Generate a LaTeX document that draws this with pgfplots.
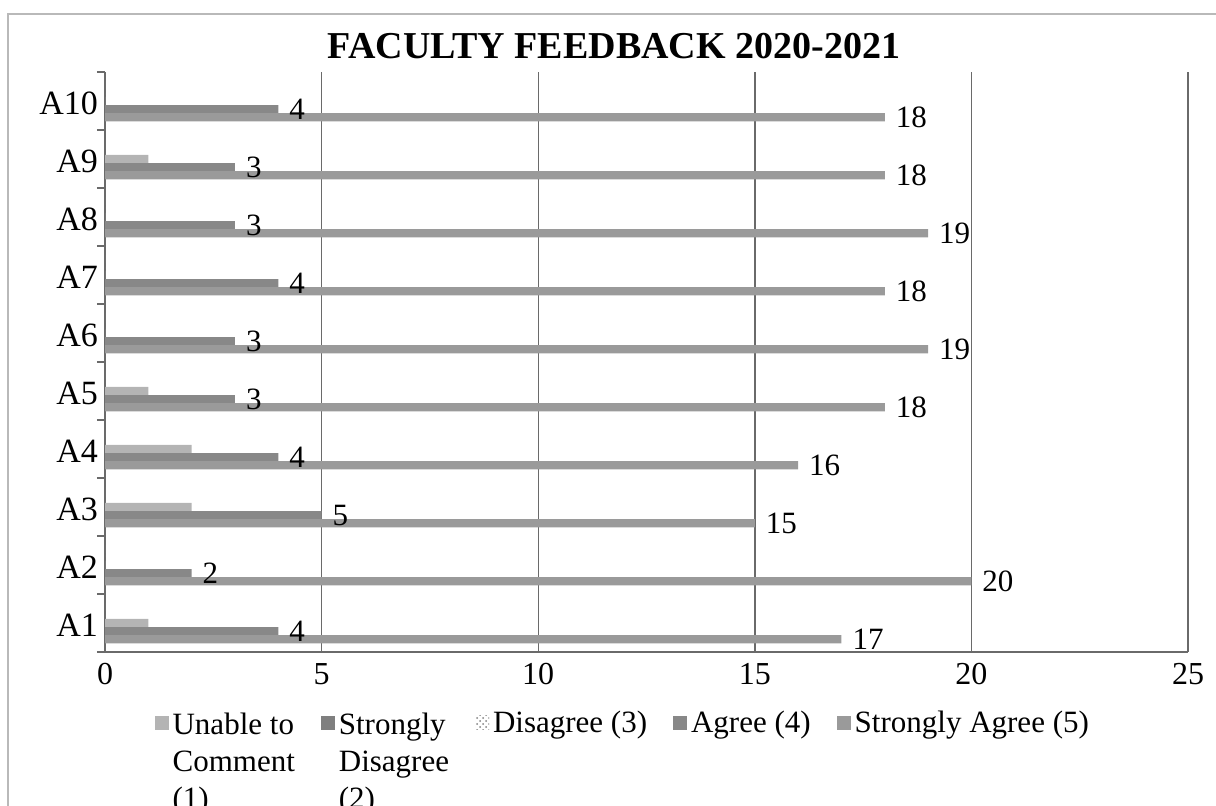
\documentclass[border=0pt]{standalone}
\usepackage{fontspec}
\setmainfont{Liberation Serif}
\usepackage{pgfplots}
\pgfplotsset{compat=1.18}
\usetikzlibrary{patterns}

\definecolor{cUnable}{HTML}{B4B4B4}
\definecolor{cSDis}{HTML}{7F7F7F}
\definecolor{cAgree}{HTML}{888888}
\definecolor{cSAgree}{HTML}{9A9A9A}
\definecolor{cGrid}{HTML}{6A6A6A}

% multi-line legend text hanging below the first line
\newcommand{\lstack}[1]{\raisebox{0pt}[\height][0pt]{\begin{tabular}[t]{@{}l@{}}#1\end{tabular}}}

\begin{document}
\begin{tikzpicture}
\useasboundingbox (-52.5pt,-76.5pt) rectangle (555.5pt,326pt);
\begin{axis}[
    xbar,
    scale only axis,
    width=541.5pt, height=290pt,
    xmin=0, xmax=25, ymin=0.5, ymax=10.5,
    xtick={0,5,...,25},
    ytick={1,...,10},
    yticklabels={A1,A2,A3,A4,A5,A6,A7,A8,A9,A10},
    minor ytick={0.5,1.5,...,10.5},
    major tick length=0pt,
    minor tick length=4pt,
    tick align=outside,
    tick style={cGrid, line width=0.6pt},
    axis x line*=bottom, axis y line*=left,
    axis line style={cGrid, line width=0.8pt, -},
    xmajorgrids,
    major grid style={cGrid, line width=0.7pt},
    bar width=0.14,
    /pgf/number format/assume math mode=true,
    xticklabel style={font=\fontsize{16}{19}\selectfont, yshift=-2pt},
    yticklabel style={font=\fontsize{17}{20}\selectfont, yshift=-1pt},
    title={FACULTY FEEDBACK 2020-2021},
    title style={font=\bfseries\fontsize{19}{22}\selectfont, at={(0.47,1)}, anchor=base, yshift=1pt},
    every node near coord/.append style={font=\fontsize{15.5}{18.6}\selectfont, anchor=west, xshift=2pt, text=black},
    legend columns=5,
    legend cell align=left,
    legend image code/.code={\fill[#1] (0pt,-3.5pt) rectangle (7pt,3.5pt);},
    legend style={at={(0.479,0)}, anchor=north, yshift=-24pt, draw=none, fill=none,
        font=\fontsize{15.5}{18.6}\selectfont,
        /tikz/every even column/.append style={column sep=11pt}},
]
\addplot[fill=cUnable, draw=none, bar shift=0]
    coordinates {(1,1) (0,2) (2,3) (2,4) (1,5) (0,6) (0,7) (0,8) (1,9) (0,10)};
\addlegendentry{\lstack{Unable to\\Comment\\(1)}}
\addplot[fill=cSDis, draw=none, bar shift=0.28]
    coordinates {(0,1) (0,2) (0,3) (0,4) (0,5) (0,6) (0,7) (0,8) (0,9) (0,10)};
\addlegendentry{\lstack{Strongly\\Disagree\\(2)}}
\addplot[pattern=crosshatch dots, pattern color=gray, draw=none, bar shift=0.14]
    coordinates {(0,1) (0,2) (0,3) (0,4) (0,5) (0,6) (0,7) (0,8) (0,9) (0,10)};
\addlegendentry{Disagree (3)}
\addplot[fill=cAgree, draw=none, bar shift=-0.14, nodes near coords, point meta=x]
    coordinates {(4,1) (2,2) (5,3) (4,4) (3,5) (3,6) (4,7) (3,8) (3,9) (4,10)};
\addlegendentry{Agree (4)}
\addplot[fill=cSAgree, draw=none, bar shift=-0.28, nodes near coords, point meta=x]
    coordinates {(17,1) (20,2) (15,3) (16,4) (18,5) (19,6) (18,7) (19,8) (18,9) (18,10)};
\addlegendentry{Strongly Agree (5)}
\end{axis}
\draw[gray!55, line width=1pt] (-48.5pt,-90pt) -- (-48.5pt,319pt) -- (570pt,319pt);
\end{tikzpicture}
\end{document}
